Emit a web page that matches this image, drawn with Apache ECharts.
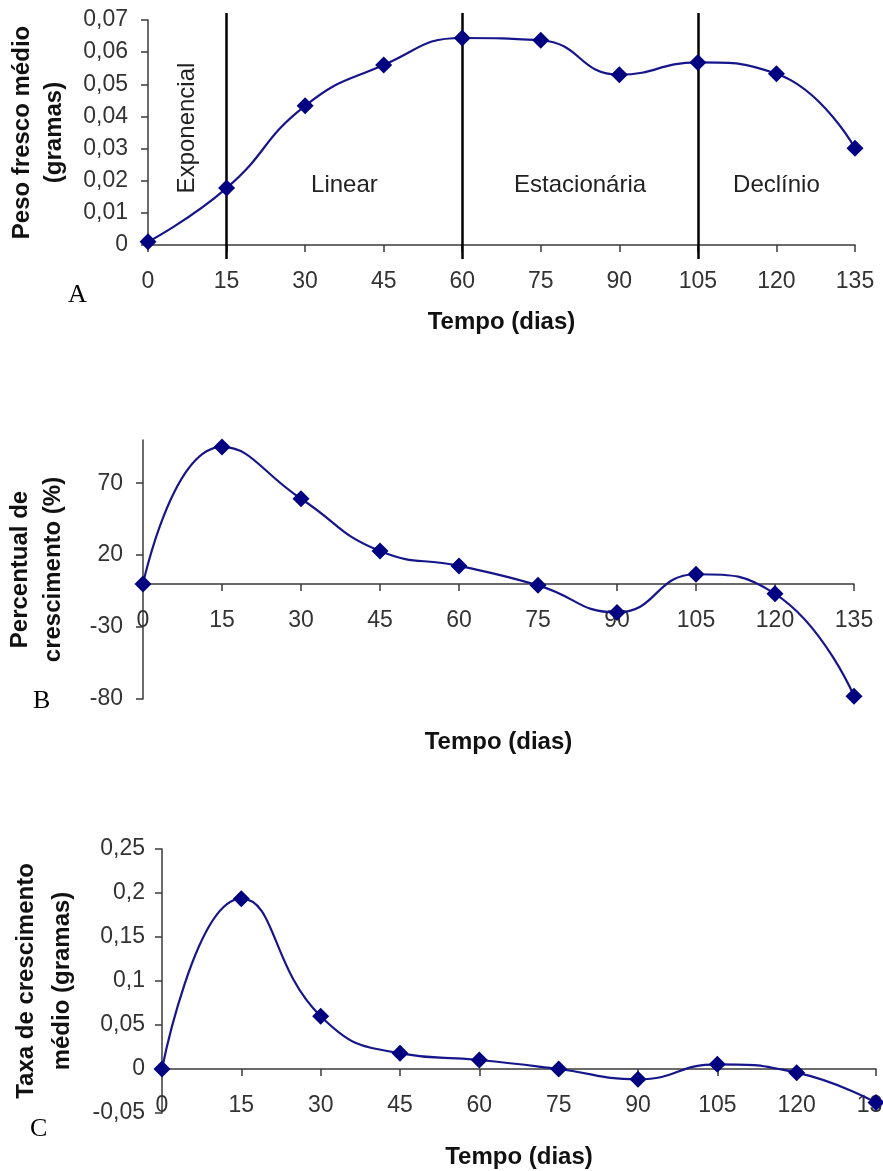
<!DOCTYPE html>
<html>
<head>
<meta charset="utf-8">
<script src="https://cdn.jsdelivr.net/npm/echarts@6/dist/echarts.min.js"></script>
<style>
  html, body { margin: 0; padding: 0; background: #fff; }
  #chart { width: 883px; height: 1171px; }
</style>
</head>
<body>
<div id="chart"></div>
<script>
// Tempo de cultivo (dias)
const dias = [0, 15, 30, 45, 60, 75, 90, 105, 120, 135];

// A: peso fresco médio (g)
const pesoFresco = [0.001, 0.0177, 0.0433, 0.056, 0.0644, 0.0637, 0.053, 0.0568, 0.0533, 0.0301];
// B: percentual de crescimento (%)
const percentual = [0, 95.2, 59.2, 22.8, 12.5, -1, -19.8, 6.7, -6.9, -78.1];
// C: taxa de crescimento médio (g)
const taxaCrescimento = [0, 0.1935, 0.060, 0.0178, 0.0102, 0, -0.0117, 0.0053, -0.0042, -0.0382];

// Marcas dos eixos
const ticksDias = [0, 15, 30, 45, 60, 75, 90, 105, 120, 135];
const ticksPeso = [0, 0.01, 0.02, 0.03, 0.04, 0.05, 0.06, 0.07];
const ticksPercentual = [-80, -30, 20, 70];
const ticksTaxa = [-0.05, 0, 0.05, 0.1, 0.15, 0.2, 0.25];

// Fases de crescimento e seus limites (dias)
const fases = ['Exponencial', 'Linear', 'Estacionária', 'Declínio'];
const limitesFases = [0, 15, 60, 105, 135];

const NAVY = '#000080';
const AXIS = '#3a3a3a';
const TICK_TXT = '#333';
const SANS = 'Liberation Sans, Arial, sans-serif';

// Grades (px)
const grids = [
  { left: 148, top: 20, width: 707, height: 225 },
  { left: 143, top: 440, width: 711, height: 259 },
  { left: 162, top: 849, width: 714, height: 264 },
  { left: 148, top: 13, width: 707, height: 246 }
];
// Faixas dos eixos verticais
const faixasY = [[0, 0.07], [-80, 100], [-0.05, 0.25]];

const fmtDec = v => String(+v.toFixed(3)).replace('.', ',');

// Deslocamento que leva o eixo horizontal até a linha do zero
function offsetZero(g) {
  const [mn, mx] = faixasY[g];
  return -grids[g].height * (0 - mn) / (mx - mn);
}

function xAxisCfg(gridIndex, nameGap) {
  return {
    type: 'value', gridIndex, min: 0, max: 135,
    position: 'bottom', offset: offsetZero(gridIndex),
    name: 'Tempo (dias)', nameLocation: 'middle', nameGap,
    nameTextStyle: { fontFamily: SANS, fontWeight: 'bold', fontSize: 24, color: '#111', verticalAlign: 'top' },
    axisLine: { onZero: false, lineStyle: { color: AXIS, width: 1.5 } },
    axisTick: { show: true, inside: false, length: 7, customValues: ticksDias, lineStyle: { color: AXIS, width: 1.5 } },
    axisLabel: { customValues: ticksDias, margin: 25, fontFamily: SANS, fontSize: 23, color: TICK_TXT },
    splitLine: { show: false }
  };
}

function yAxisCfg(gridIndex, ticks, fmt, name, nameGap, lineHeight, labelMargin) {
  return {
    type: 'value', gridIndex, min: faixasY[gridIndex][0], max: faixasY[gridIndex][1],
    name, nameLocation: 'middle', nameGap, nameRotate: 90,
    nameTextStyle: { fontFamily: SANS, fontWeight: 'bold', fontSize: 24, color: '#111', lineHeight, align: 'center' },
    axisLine: { show: true, onZero: false, lineStyle: { color: AXIS, width: 1.5 } },
    axisTick: { show: true, inside: false, length: 7, customValues: ticks, lineStyle: { color: AXIS, width: 1.5 } },
    axisLabel: { customValues: ticks, formatter: fmt, margin: labelMargin, fontFamily: SANS, fontSize: 23, color: TICK_TXT },
    splitLine: { show: false }
  };
}

function curve(data, xi, yi) {
  return {
    type: 'line', xAxisIndex: xi, yAxisIndex: yi,
    data: dias.map((d, i) => [d, data[i]]),
    smooth: 0.5,
    symbol: 'diamond', symbolSize: 17,
    itemStyle: { color: NAVY },
    lineStyle: { color: '#16168a', width: 2.2 },
    z: 5
  };
}

// Áreas das fases (para os rótulos) e linhas divisórias
const areasFases = fases.map((f, i) => {
  const ehExp = i === 0;
  return [
    {
      name: f, xAxis: limitesFases[i],
      label: ehExp ? { rotate: 90, offset: [8, 0] } : { offset: [0, 49] }
    },
    { xAxis: limitesFases[i + 1] }
  ];
});

const serif = { fontFamily: 'Liberation Serif, Times New Roman, serif', fontWeight: 'normal', fontSize: 26, color: '#000' };

const option = {
  backgroundColor: '#fff',
  animation: false,
  title: [
    { text: 'A', left: 68, top: 282, padding: 0, textStyle: serif },
    { text: 'B', left: 33, top: 688, padding: 0, textStyle: serif },
    { text: 'C', left: 30, top: 1116, padding: 0, textStyle: serif }
  ],
  grid: grids.map(g => Object.assign({ containLabel: false, outerBoundsMode: 'none' }, g)),
  xAxis: [
    xAxisCfg(0, 65),
    xAxisCfg(1, 146),
    xAxisCfg(2, 76),
    { type: 'value', gridIndex: 3, min: 0, max: 135, show: false }
  ],
  yAxis: [
    yAxisCfg(0, ticksPeso, fmtDec, 'Peso fresco médio\n(gramas)', 78, 32, 20),
    yAxisCfg(1, ticksPercentual, v => String(v), 'Percentual de\ncrescimento (%)', 73, 33, 20),
    yAxisCfg(2, ticksTaxa, fmtDec, 'Taxa de crescimento\nmédio (gramas)', 82, 36, 17),
    { type: 'value', gridIndex: 3, min: 0, max: 1, show: false }
  ],
  series: [
    {
      type: 'line', xAxisIndex: 3, yAxisIndex: 3, data: [],
      markLine: {
        silent: true, symbol: 'none',
        label: { show: false },
        lineStyle: { color: '#000', width: 2.5, type: 'solid' },
        data: limitesFases.slice(1, -1).map(x => ({ xAxis: x }))
      },
      markArea: {
        silent: true,
        itemStyle: { color: 'rgba(0,0,0,0)' },
        label: { show: true, position: 'inside', fontFamily: SANS, fontSize: 24, color: '#222' },
        data: areasFases
      }
    },
    curve(pesoFresco, 0, 0),
    curve(percentual, 1, 1),
    curve(taxaCrescimento, 2, 2)
  ]
};

echarts.init(document.getElementById('chart'), null, { renderer: 'canvas' }).setOption(option);
</script>
</body>
</html>
